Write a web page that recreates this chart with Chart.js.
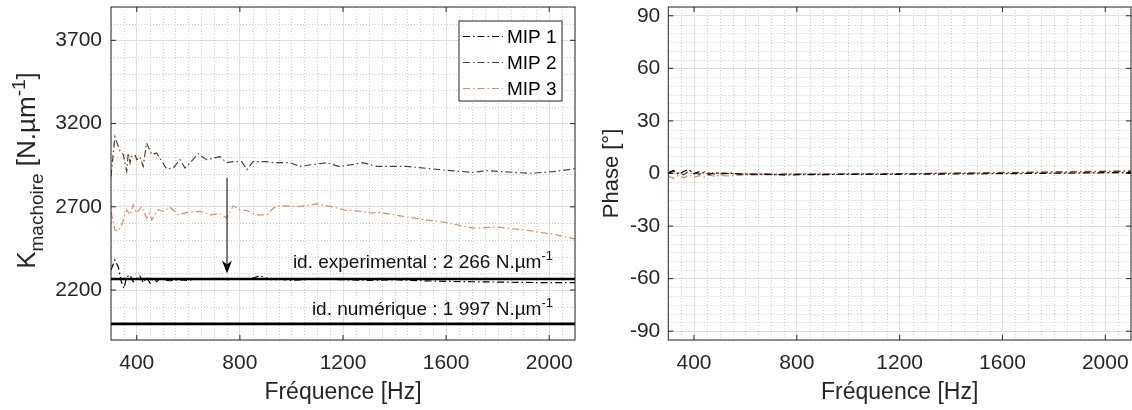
<!DOCTYPE html>
<html>
<head>
<meta charset="utf-8">
<script src="https://cdn.jsdelivr.net/npm/chart.js@4.4.0/dist/chart.umd.min.js"></script>
<style>
body { margin: 0; background: #fff; width: 1132px; height: 410px; overflow: hidden; position: relative; }
canvas { position: absolute; top: 0; }
#left { left: 0; }
#right { left: 580px; }
</style>
</head>
<body>
<canvas id="left" width="590" height="410"></canvas>
<canvas id="right" width="552" height="410"></canvas>
<script>
const FONT = "'Liberation Sans', Arial, sans-serif";
const INK = '#262626';

// rigidite machoire (N/um) en fonction de la frequence (Hz)
const freqMip1 = [300, 315, 328, 340, 350, 361, 374, 386, 400, 412, 426, 438, 452, 465, 477, 490, 503, 529, 561, 600, 640, 680, 720, 750, 790, 830, 878, 920, 960, 1000, 1050, 1100, 1200, 1300, 1400, 1500, 1600, 1700, 1800, 1900, 2000, 2100];
const kMip1 = [2320, 2381, 2340, 2250, 2210, 2280, 2290, 2250, 2270, 2284, 2244, 2276, 2240, 2276, 2250, 2268, 2262, 2256, 2262, 2258, 2266, 2262, 2270, 2262, 2268, 2262, 2286, 2262, 2264, 2258, 2262, 2266, 2262, 2258, 2262, 2256, 2252, 2250, 2248, 2246, 2244, 2244];

const freqMip2 = [300, 315, 335, 348, 361, 367, 374, 380, 393, 400, 412, 425, 438, 458, 477, 516, 542, 568, 587, 606, 639, 671, 723, 749, 773, 807, 827, 851, 904, 928, 994, 1033, 1137, 1188, 1277, 1331, 1421, 1447, 1511, 1602, 1705, 1757, 1861, 1925, 2016, 2100];
const kMip2 = [2882, 3120, 3035, 3013, 2913, 3023, 2963, 3003, 3013, 2983, 3000, 2943, 3084, 3013, 3023, 2927, 2935, 2983, 2933, 2963, 3019, 2983, 3001, 2965, 2971, 2971, 2923, 2971, 2971, 2965, 2965, 2943, 2965, 2941, 2965, 2943, 2943, 2943, 2933, 2919, 2907, 2917, 2907, 2901, 2911, 2929];

const freqMip3 = [300, 315, 328, 341, 361, 374, 386, 400, 419, 438, 451, 458, 483, 503, 529, 561, 594, 645, 684, 723, 749, 774, 800, 826, 865, 904, 930, 956, 1033, 1098, 1162, 1214, 1240, 1317, 1331, 1421, 1499, 1602, 1705, 1796, 1925, 2029, 2100];
const kMip3 = [2670, 2561, 2551, 2592, 2682, 2652, 2712, 2662, 2702, 2632, 2662, 2622, 2682, 2672, 2698, 2652, 2666, 2672, 2652, 2658, 2632, 2706, 2682, 2678, 2652, 2652, 2692, 2706, 2702, 2718, 2698, 2678, 2678, 2662, 2668, 2646, 2626, 2605, 2572, 2578, 2557, 2531, 2507];

// phase (deg)
const freqPhase = [300, 320, 340, 360, 380, 400, 420, 440, 460, 480, 500, 540, 580, 650, 750, 900, 1100, 1300, 1500, 1700, 1900, 2100];
const phaseMip1 = [0.5, 1.8, -0.5, 1.2, 2.2, -0.2, 1.0, 0.3, -0.5, 0.6, -0.3, 0.2, -0.4, -0.3, -0.8, -0.6, -0.5, -0.4, -0.2, 0.0, 0.3, 0.6];
const phaseMip2 = [0.0, 1.2, 0.4, -0.8, 1.5, 0.6, -0.5, 1.0, 0.2, -0.4, 0.5, -0.2, -0.3, -0.5, -0.4, -0.3, -0.2, 0.0, 0.3, 0.6, 0.9, 1.2];
const phaseMip3 = [-1.5, -2.8, -1.0, -2.5, -0.8, -2.2, -1.2, -2.0, -0.9, -1.6, -1.1, -1.4, -1.0, -0.8, -0.6, -0.5, -0.3, 0.0, 0.4, 0.8, 1.2, 1.8];

const seriesNames = ['MIP 1', 'MIP 2', 'MIP 3'];
const seriesColors = ['#000000', '#5b3a26', '#e08a5c'];

const freqMin = 300, freqMax = 2100;
const xTicks = [400, 800, 1200, 1600, 2000];
const kTicks = [2200, 2700, 3200, 3700];
const phaseTicks = [-90, -60, -30, 0, 30, 60, 90];

const kExperimental = 2266;
const kNumerique = 1997;
const arrowFreq = 750, arrowFrom = 2875, arrowTo = 2300;

const pts = (xs, ys) => xs.map((x, i) => ({ x: x, y: ys[i] }));
const dashDot = [7, 3, 1.5, 3];

const lineSet = (i, xs, ys) => ({
    label: seriesNames[i],
    data: pts(xs, ys),
    borderColor: seriesColors[i],
    borderWidth: 1.2,
    borderDash: dashDot,
    pointRadius: 0,
    fill: false,
    tension: 0
});

const refSet = (v) => ({
    label: '',
    data: [{ x: freqMin, y: v }, { x: freqMax, y: v }],
    borderColor: '#000',
    borderWidth: 2.6,
    pointRadius: 0
});

// pas de marge auto pour les labels : la zone du graphe reste fixe
const noPad = s => { s.paddingTop = 0; s.paddingBottom = 0; s.paddingLeft = 0; s.paddingRight = 0; };

// grille mineure pointillee + cadre avec ticks vers l'interieur
const boxPlugin = (xStep, yStep) => ({
    id: 'box',
    beforeDatasetsDraw(chart) {
        const { ctx, chartArea: a, scales: { x, y } } = chart;
        const isMajor = (s, v) => s.ticks.some(t => Math.abs(t.value - v) < 1e-6);
        ctx.save();
        ctx.strokeStyle = 'rgba(130,130,130,0.4)';
        ctx.lineWidth = 1;
        ctx.setLineDash([1, 2]);
        for (let v = Math.ceil(x.min / xStep) * xStep; v <= x.max; v += xStep) {
            if (isMajor(x, v)) continue;
            const px = Math.round(x.getPixelForValue(v)) + 0.5;
            ctx.beginPath(); ctx.moveTo(px, a.top); ctx.lineTo(px, a.bottom); ctx.stroke();
        }
        for (let v = Math.ceil(y.min / yStep) * yStep; v <= y.max; v += yStep) {
            if (isMajor(y, v)) continue;
            const py = Math.round(y.getPixelForValue(v)) + 0.5;
            ctx.beginPath(); ctx.moveTo(a.left, py); ctx.lineTo(a.right, py); ctx.stroke();
        }
        ctx.restore();
    },
    afterDraw(chart) {
        const { ctx, chartArea: a, scales: { x, y } } = chart;
        ctx.save();
        ctx.strokeStyle = INK;
        ctx.lineWidth = 1;
        ctx.setLineDash([]);
        ctx.strokeRect(a.left, a.top, a.right - a.left, a.bottom - a.top);
        ctx.beginPath();
        x.ticks.forEach(t => {
            const px = x.getPixelForValue(t.value);
            ctx.moveTo(px, a.bottom); ctx.lineTo(px, a.bottom - 5);
            ctx.moveTo(px, a.top); ctx.lineTo(px, a.top + 5);
        });
        y.ticks.forEach(t => {
            const py = y.getPixelForValue(t.value);
            ctx.moveTo(a.left, py); ctx.lineTo(a.left + 5, py);
            ctx.moveTo(a.right, py); ctx.lineTo(a.right - 5, py);
        });
        ctx.stroke();
        ctx.restore();
    }
});

// texte avec indices / exposants
const richText = (ctx, parts, x, y, align, rotate) => {
    ctx.save();
    ctx.translate(x, y);
    if (rotate) ctx.rotate(-Math.PI / 2);
    ctx.textBaseline = 'alphabetic';
    ctx.textAlign = 'left';
    let total = 0;
    parts.forEach(p => { ctx.font = p.size + 'px ' + FONT; total += ctx.measureText(p.t).width; });
    let pos = align === 'center' ? -total / 2 : (align === 'right' ? -total : 0);
    parts.forEach(p => {
        ctx.font = p.size + 'px ' + FONT;
        ctx.fillText(p.t, pos, p.dy || 0);
        pos += ctx.measureText(p.t).width;
    });
    ctx.restore();
};

const leftDecor = {
    id: 'leftDecor',
    afterDatasetsDraw(chart) {
        const { ctx, chartArea: a, scales: { x, y } } = chart;
        ctx.save();
        // fleche
        const ax = x.getPixelForValue(arrowFreq);
        const ay0 = y.getPixelForValue(arrowFrom);
        const ay1 = y.getPixelForValue(arrowTo);
        ctx.strokeStyle = '#000';
        ctx.fillStyle = '#000';
        ctx.lineWidth = 1;
        ctx.beginPath(); ctx.moveTo(ax, ay0); ctx.lineTo(ax, ay1 - 8); ctx.stroke();
        ctx.beginPath();
        ctx.moveTo(ax, ay1);
        ctx.lineTo(ax - 5, ay1 - 13);
        ctx.lineTo(ax, ay1 - 9);
        ctx.lineTo(ax + 5, ay1 - 13);
        ctx.closePath();
        ctx.fill();
        ctx.fillStyle = '#111';
        richText(ctx, [{ t: 'id. experimental : 2 266 N.\u00b5m', size: 19 }, { t: '-1', size: 13, dy: -8 }],
            a.right - 22, y.getPixelForValue(kExperimental) - 11, 'right');
        richText(ctx, [{ t: 'id. num\u00e9rique : 1 997 N.\u00b5m', size: 19 }, { t: '-1', size: 13, dy: -8 }],
            a.right - 22, y.getPixelForValue(kNumerique) - 9, 'right');
        ctx.restore();
    },
    afterDraw(chart) {
        const { ctx, chartArea: a } = chart;
        ctx.save();
        // legende
        const w = 103, h = 80, x0 = a.right - 13 - w, y0 = a.top + 14;
        ctx.fillStyle = '#fff';
        ctx.fillRect(x0, y0, w, h);
        ctx.strokeStyle = INK;
        ctx.lineWidth = 1;
        ctx.strokeRect(x0, y0, w, h);
        chart.data.datasets.slice(0, 3).forEach((ds, i) => {
            const yy = y0 + 15.5 + i * 26;
            ctx.strokeStyle = ds.borderColor;
            ctx.lineWidth = 1.2;
            ctx.setLineDash(ds.borderDash);
            ctx.beginPath(); ctx.moveTo(x0 + 4, yy); ctx.lineTo(x0 + 44, yy); ctx.stroke();
            ctx.setLineDash([]);
            ctx.fillStyle = '#000';
            ctx.font = '19px ' + FONT;
            ctx.textBaseline = 'middle';
            ctx.fillText(ds.label, x0 + 48, yy + 1);
        });
        // titre axe y
        ctx.fillStyle = INK;
        richText(ctx, [
            { t: 'K', size: 26 },
            { t: 'machoire', size: 19, dy: 8 },
            { t: ' [N.\u00b5m', size: 26 },
            { t: '-1', size: 19, dy: -10 },
            { t: ']', size: 26 }
        ], 35, (a.top + a.bottom) / 2 - 3, 'center', true);
        ctx.restore();
    }
};

const xScale = (title) => ({
    type: 'linear',
    min: freqMin,
    max: freqMax,
    afterBuildTicks: s => { s.ticks = xTicks.map(v => ({ value: v })); },
    afterFit: s => { s.height = 70; noPad(s); },
    grid: { color: '#e0e0e0', lineWidth: 1, drawTicks: false },
    border: { display: false },
    ticks: { font: { family: FONT, size: 21 }, color: INK, padding: 11, maxRotation: 0, callback: v => String(v) },
    title: { display: true, text: title, font: { family: FONT, size: 23 }, color: INK, padding: { top: 0, bottom: 4 } }
});

const baseOptions = {
    responsive: false,
    devicePixelRatio: 1,
    animation: false,
    plugins: { legend: { display: false }, tooltip: { enabled: false } }
};

new Chart(document.getElementById('left').getContext('2d'), {
    type: 'line',
    data: {
        datasets: [
            lineSet(0, freqMip1, kMip1),
            lineSet(1, freqMip2, kMip2),
            lineSet(2, freqMip3, kMip3),
            refSet(kExperimental),
            refSet(kNumerique)
        ]
    },
    options: Object.assign({}, baseOptions, {
        layout: { padding: { top: 7, right: 15, left: 0, bottom: 0 } },
        scales: {
            x: xScale('Fr\u00e9quence [Hz]'),
            y: {
                type: 'linear',
                min: 1900,
                max: 3900,
                afterBuildTicks: s => { s.ticks = kTicks.map(v => ({ value: v })); },
                afterFit: s => { s.width = 111; noPad(s); },
                grid: { color: '#e0e0e0', lineWidth: 1, drawTicks: false },
                border: { display: false },
                ticks: { font: { family: FONT, size: 21 }, color: INK, padding: 9, callback: v => String(v) }
            }
        }
    }),
    plugins: [boxPlugin(50, 100), leftDecor]
});

new Chart(document.getElementById('right').getContext('2d'), {
    type: 'line',
    data: {
        datasets: [
            lineSet(0, freqPhase, phaseMip1),
            lineSet(1, freqPhase, phaseMip2),
            lineSet(2, freqPhase, phaseMip3)
        ]
    },
    options: Object.assign({}, baseOptions, {
        layout: { padding: { top: 7, right: 1, left: 0, bottom: 0 } },
        scales: {
            x: xScale('Fr\u00e9quence [Hz]'),
            y: {
                type: 'linear',
                min: -95,
                max: 95,
                afterBuildTicks: s => { s.ticks = phaseTicks.map(v => ({ value: v })); },
                afterFit: s => { s.width = 88.3; noPad(s); },
                grid: { color: '#e0e0e0', lineWidth: 1, drawTicks: false },
                border: { display: false },
                ticks: { font: { family: FONT, size: 21 }, color: INK, padding: 8, callback: v => String(v) },
                title: { display: true, text: 'Phase [\u00b0]', font: { family: FONT, size: 22 }, color: INK, padding: { top: 19 } }
            }
        }
    }),
    plugins: [boxPlugin(50, 5)]
});
</script>
</body>
</html>
